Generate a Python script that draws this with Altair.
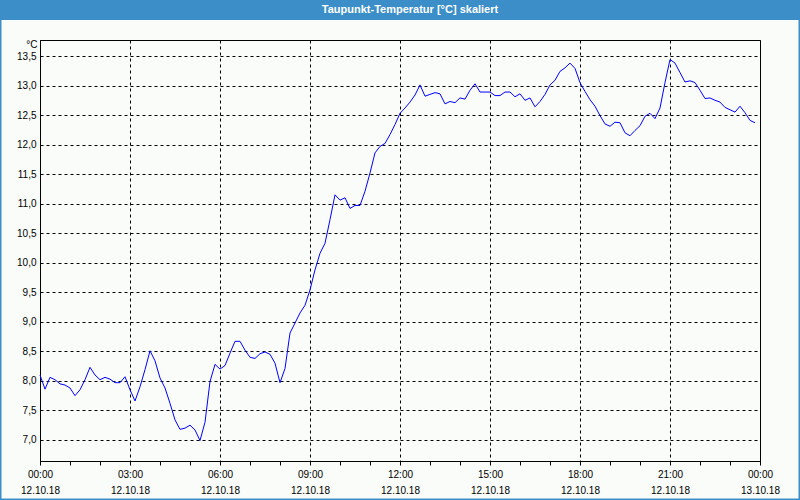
import altair as alt
import pandas as pd

# Dew point values, one every 10 minutes from 12.10.18 00:00 to 23:50
dew_point = [
    8.10, 7.86, 8.06, 8.02, 7.95, 7.93, 7.88, 7.75, 7.85, 8.02,
    8.23, 8.10, 8.02, 8.06, 8.03, 7.97, 7.97, 8.07, 7.85, 7.66,
    7.90, 8.19, 8.51, 8.34, 8.05, 7.88, 7.62, 7.34, 7.18, 7.20,
    7.25, 7.17, 6.99, 7.30, 7.99, 8.28, 8.20, 8.26, 8.47, 8.67,
    8.67, 8.52, 8.40, 8.38, 8.46, 8.49, 8.45, 8.30, 7.97, 8.21,
    8.81, 8.98, 9.15, 9.28, 9.54, 9.88, 10.16, 10.33, 10.73, 11.15,
    11.06, 11.10, 10.92, 10.97, 10.97, 11.21, 11.52, 11.86, 11.97, 12.02,
    12.17, 12.34, 12.53, 12.62, 12.72, 12.84, 13.01, 12.82, 12.85, 12.88,
    12.86, 12.69, 12.73, 12.71, 12.79, 12.77, 12.92, 13.03, 12.89, 12.89,
    12.89, 12.83, 12.83, 12.89, 12.89, 12.81, 12.86, 12.75, 12.79, 12.64,
    12.73, 12.85, 13.01, 13.09, 13.24, 13.30, 13.38, 13.29, 13.05, 12.90,
    12.76, 12.65, 12.49, 12.35, 12.31, 12.38, 12.37, 12.20, 12.15, 12.24,
    12.32, 12.48, 12.53, 12.44, 12.62, 13.05, 13.44, 13.38, 13.22, 13.06,
    13.08, 13.05, 12.92, 12.78, 12.79, 12.75, 12.72, 12.63, 12.59, 12.55,
    12.65, 12.54, 12.41, 12.37,
]
start_time = "2018-10-12T00:00:00Z"
end_time = "2018-10-13T00:00:00Z"
step_minutes = 10
y_ticks = [7.0, 7.5, 8.0, 8.5, 9.0, 9.5, 10.0, 10.5, 11.0, 11.5, 12.0, 12.5, 13.0, 13.5]
y_domain = [6.644, 13.771]
title_text = "Taupunkt-Temperatur [°C] skaliert"
unit_text = "°C"

start = pd.Timestamp(start_time)
end = pd.Timestamp(end_time)
times = [(start + pd.Timedelta(minutes=step_minutes * i)).strftime("%Y-%m-%dT%H:%M:%SZ")
         for i in range(len(dew_point))]
df = pd.DataFrame({"time": times, "value": dew_point})

start_ms = int(start.timestamp() * 1000)
end_ms = int(end.timestamp() * 1000)
hour_ticks = [start_ms + h * 3600000 for h in range(25)]

BLUE = "#3B8EC8"
BG = "#FAFCFA"
FONT = "Liberation Sans"

line = alt.Chart(df).mark_line(color="#0000FF", strokeWidth=1).encode(
    x=alt.X(
        "time:T",
        scale=alt.Scale(type="utc", domain=[start_ms, end_ms], nice=False),
        axis=alt.Axis(
            title=None,
            values=hour_ticks,
            labelExpr="utchours(datum.value) % 3 == 0 ? [utcFormat(datum.value, '%H:%M'), utcFormat(datum.value, '%d.%m.%y')] : ''",
            labelFlush=False,
            labelOverlap=False,
            labelBound=False,
            labelLineHeight=16,
            labelPadding=4,
            tickSize=4,
            tickColor="black",
            grid=True,
            gridColor="black",
            gridDash=[3, 3],
            gridOpacity={"condition": {"test": "utchours(datum.value) % 3 == 0", "value": 1}, "value": 0},
        ),
    ),
    y=alt.Y(
        "value:Q",
        scale=alt.Scale(domain=y_domain, nice=False, zero=False),
        axis=alt.Axis(
            title=unit_text,
            titleAngle=0,
            titleAlign="right",
            titleBaseline="middle",
            titleX=-3,
            titleY=4,
            titleFont=FONT,
            titleFontSize=10,
            titleFontWeight="normal",
            titleColor="black",
            values=y_ticks,
            labelExpr="replace(format(datum.value, '.1f'), '.', ',')",
            ticks=False,
            labelPadding=4,
            grid=True,
            gridColor="black",
            gridDash=[3, 3],
        ),
    ),
)

one = pd.DataFrame({"a": [0]})
frame = alt.Chart(one).mark_rect(filled=False, stroke=BLUE, strokeWidth=3).encode(
    x=alt.value(-40), x2=alt.value(760), y=alt.value(-40), y2=alt.value(460)
)
title_bar = alt.Chart(one).mark_rect(color=BLUE).encode(
    x=alt.value(-40), x2=alt.value(760), y=alt.value(-40), y2=alt.value(-20)
)
title = alt.Chart(one).mark_text(
    text=title_text, color="white", font=FONT, fontSize=11, fontWeight="bold",
    align="center", baseline="middle"
).encode(x=alt.value(370), y=alt.value(-30))

chart = alt.layer(frame, title_bar, title, line).properties(
    width=720,
    height=421,
    padding={"left": 40, "top": 40, "right": 40, "bottom": 39},
    autosize=alt.AutoSizeParams(type="none"),
    background=BG,
).configure_view(
    stroke="black", strokeWidth=1
).configure_axis(
    domainColor="black",
    labelColor="black",
    labelFont=FONT,
    labelFontSize=10,
)

chart.save("out.html", embed_options={"renderer": "svg", "actions": False})
